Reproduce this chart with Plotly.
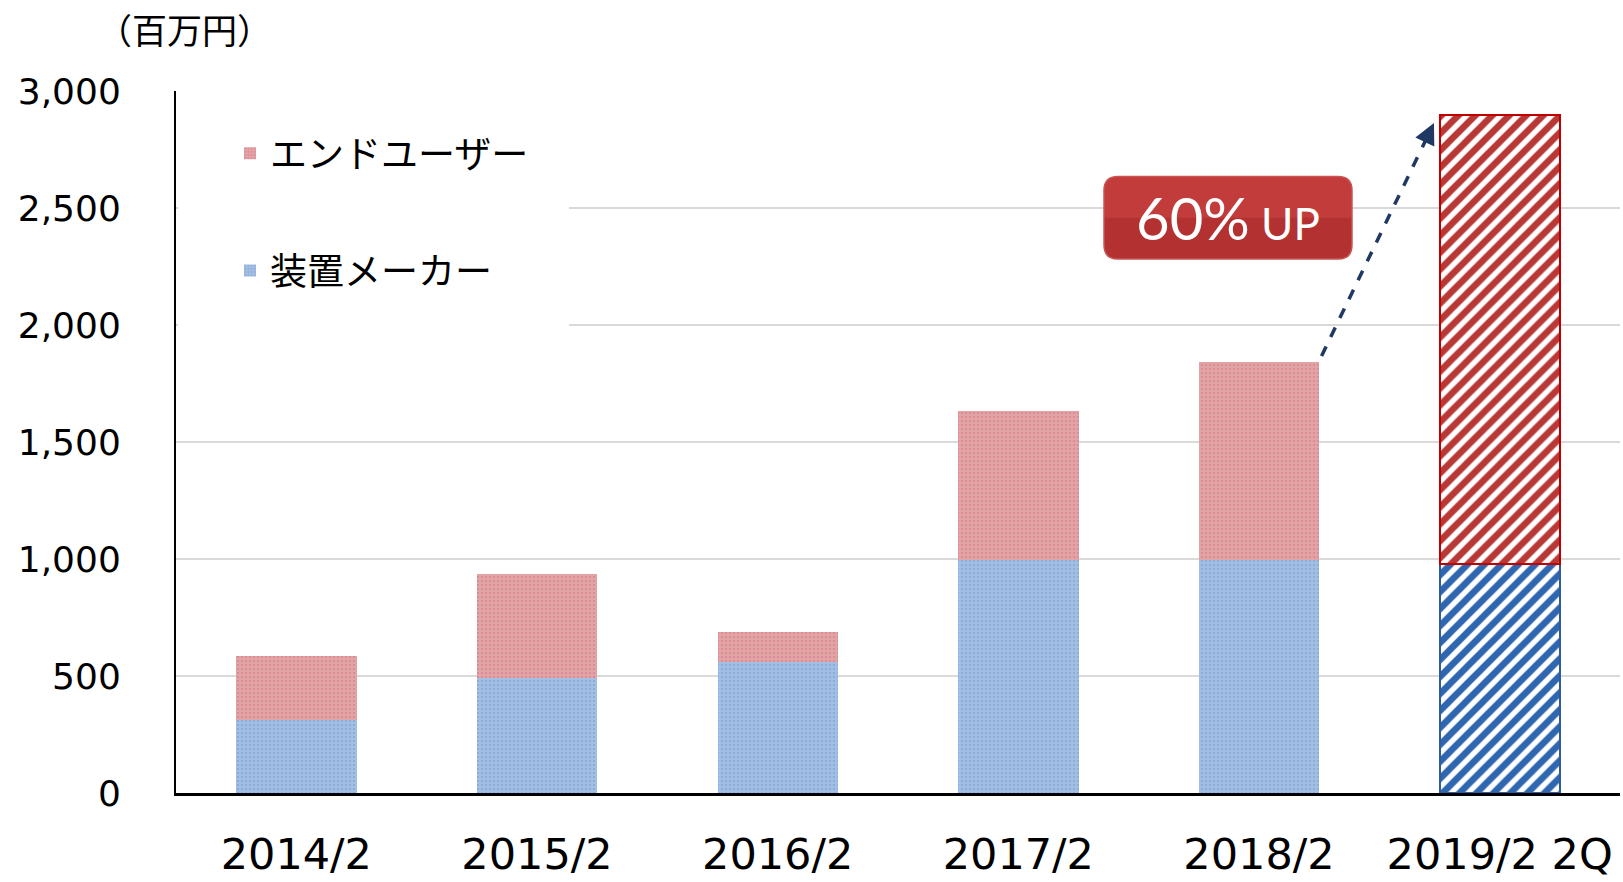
import plotly.graph_objects as go

# ---------------- data ----------------
categories = ["2014/2", "2015/2", "2016/2", "2017/2", "2018/2", "2019/2 2Q"]
maker_values = [313, 493, 558, 995, 995, 979]          # 装置メーカー
enduser_values = [273, 443, 129, 636, 848, 1919]       # エンドユーザー
y_tick_values = [0, 500, 1000, 1500, 2000, 2500, 3000]
series_names = ["装置メーカー", "エンドユーザー"]
unit_label = "（百万円）"
callout_text = "60%"
callout_suffix = "UP"

# ---------------- layout geometry ----------------
W, H = 1623, 882
L, R, T, B = 176, 3, 91, 85
PW, PH = W - L - R, H - T - B
BAR_W = 0.5

def px_to_paper_x(px):
    return (px - L) / PW

def px_to_paper_y(py):
    return 1 - (py - T) / PH

n = len(categories)
actual_cats, fc_cats = categories[:-1], categories[-1:]

blue_base, blue_dot, blue_hatch, blue_edge = "#A3BEE3", "#7698CF", "#2F66B0", "#2F5C9E"
red_base, red_dot, red_hatch, red_edge = "#E2A3A6", "#D2737A", "#B83836", "#C00000"

def dotted(base, dot):
    return dict(color=base, line=dict(width=0),
                pattern=dict(shape=".", fgcolor=dot, bgcolor=base, size=4, solidity=0.25))

def hatched(hatch, edge):
    return dict(color="white", line=dict(color=edge, width=2),
                pattern=dict(shape="/", fgcolor=hatch, bgcolor="white", fgopacity=1,
                             size=12, solidity=0.55))

fig = go.Figure()
fig.add_trace(go.Bar(x=actual_cats, y=maker_values[:-1], name=series_names[0], width=BAR_W,
                     marker=dotted(blue_base, blue_dot), legendgroup="maker", legendrank=2))
fig.add_trace(go.Bar(x=actual_cats, y=enduser_values[:-1], name=series_names[1], width=BAR_W,
                     marker=dotted(red_base, red_dot), legendgroup="end", legendrank=1))
fig.add_trace(go.Bar(x=fc_cats, y=maker_values[-1:], name=series_names[0], width=BAR_W,
                     marker=hatched(blue_hatch, blue_edge), legendgroup="maker", showlegend=False))
fig.add_trace(go.Bar(x=fc_cats, y=enduser_values[-1:], name=series_names[1], width=BAR_W,
                     marker=hatched(red_hatch, red_edge), legendgroup="end", showlegend=False))

totals = [m + e for m, e in zip(maker_values, enduser_values)]

# ---------------- arrow (dashed) from bar 5 top to bar 6 top ----------------
x0 = 4 + BAR_W / 2 + 0.01
y0 = totals[4] + 25
x1 = 5 - BAR_W / 2 - 0.023
y1 = totals[5] - 35
frac = 0.11
xt, yt = x1 - frac * (x1 - x0), y1 - frac * (y1 - y0)
fig.add_shape(type="line", xref="x", yref="y", x0=x0, y0=y0, x1=xt, y1=yt,
              line=dict(color="#1F3864", width=3.5, dash="dash"))
fig.add_annotation(x=x1, y=y1, ax=xt, ay=yt, xref="x", yref="y", axref="x", ayref="y",
                   text="", showarrow=True, arrowhead=2, arrowsize=1.2, arrowwidth=3.5,
                   arrowcolor="#1F3864", standoff=0)

# ---------------- white area behind legend (hides gridlines like the original) ----------------
fig.add_shape(type="rect", xref="paper", yref="paper", layer="above",
              x0=0.0015, x1=px_to_paper_x(569), y0=px_to_paper_y(335), y1=px_to_paper_y(110),
              fillcolor="white", line=dict(width=0))

# ---------------- callout box ----------------
bx0, bx1 = px_to_paper_x(1104), px_to_paper_x(1352)
by1, by0 = px_to_paper_y(177), px_to_paper_y(260)
rx, ry = 14 / PW, 14 / PH
path = (f"M {bx0+rx},{by1} L {bx1-rx},{by1} Q {bx1},{by1} {bx1},{by1-ry} "
        f"L {bx1},{by0+ry} Q {bx1},{by0} {bx1-rx},{by0} "
        f"L {bx0+rx},{by0} Q {bx0},{by0} {bx0},{by0+ry} "
        f"L {bx0},{by1-ry} Q {bx0},{by1} {bx0+rx},{by1} Z")
fig.add_shape(type="path", xref="paper", yref="paper", path=path,
              fillcolor="#B33131", line=dict(color="#C85555", width=1.5))
hy = (by0 + by1) / 2
path_top = (f"M {bx0+rx},{by1} L {bx1-rx},{by1} Q {bx1},{by1} {bx1},{by1-ry} "
            f"L {bx1},{hy} L {bx0},{hy} L {bx0},{by1-ry} Q {bx0},{by1} {bx0+rx},{by1} Z")
fig.add_shape(type="path", xref="paper", yref="paper", path=path_top,
              fillcolor="rgba(215,75,75,0.45)", line=dict(width=0))
fig.add_annotation(x=(bx0 + bx1) / 2, y=(by0 + by1) / 2, xref="paper", yref="paper",
                   text=f"{callout_text}<span style='font-size:44px'> {callout_suffix}</span>",
                   showarrow=False, font=dict(family="Lato, Open Sans, sans-serif", size=58, color="white"),
                   xanchor="center", yanchor="middle")

# ---------------- unit label ----------------
fig.add_annotation(x=px_to_paper_x(184), y=px_to_paper_y(28), xref="paper", yref="paper",
                   text=unit_label, showarrow=False,
                   font=dict(family="Noto Sans CJK JP", size=35, color="#000"),
                   xanchor="center", yanchor="middle")

fig.update_layout(
    width=W, height=H,
    margin=dict(l=L, r=R, t=T, b=B),
    barmode="stack",
    plot_bgcolor="white", paper_bgcolor="white",
    showlegend=True,
    legend=dict(
        x=px_to_paper_x(230), y=px_to_paper_y(123), xanchor="left", yanchor="top",
        traceorder="grouped", tracegroupgap=66,
        bgcolor="rgba(255,255,255,0)", borderwidth=0,
        font=dict(family="Noto Sans CJK JP", size=37, color="#000"),
    ),
    font=dict(family="DejaVu Sans", color="#000"),
)
fig.update_xaxes(
    type="category", categoryorder="array", categoryarray=categories, range=[-0.5, n - 0.5],
    showline=True, linecolor="#000", linewidth=2.5,
    showgrid=False, ticks="", ticklabelstandoff=22,
    tickfont=dict(family="DejaVu Sans", size=43, color="#000"),
)
fig.update_yaxes(
    range=[0, 3000], tickvals=y_tick_values, tickformat=",",
    showline=True, linecolor="#000", linewidth=2,
    showgrid=True, gridcolor="#D9D9D9", gridwidth=2,
    zeroline=False, ticks="", ticklabelstandoff=46,
    tickfont=dict(family="DejaVu Sans", size=36, color="#000"),
)

fig.write_html("out.html", config={"displayModeBar": False},
               post_script="document.body.style.margin='0';document.body.style.overflow='hidden';")
